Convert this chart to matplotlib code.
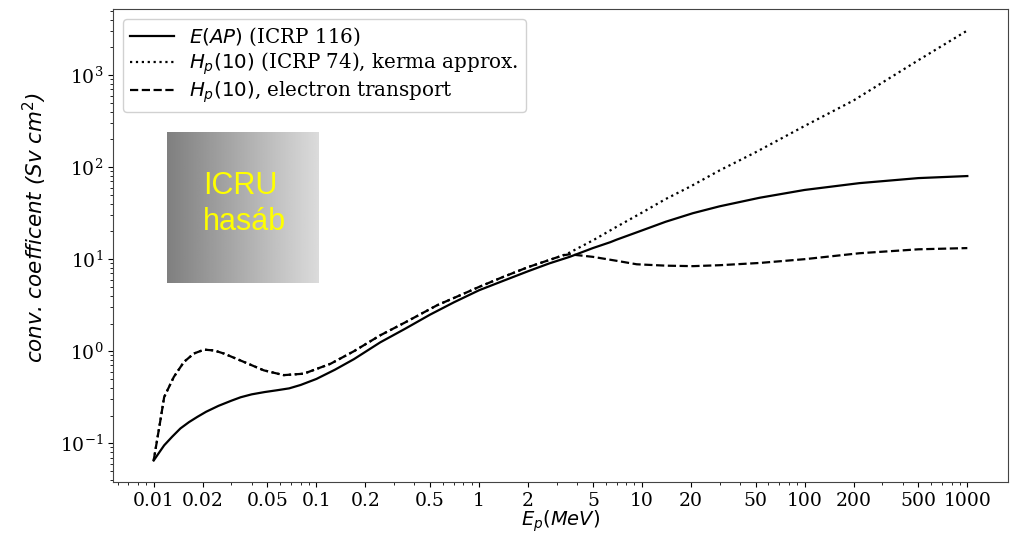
import matplotlib
matplotlib.use('Agg')
import matplotlib.pyplot as plt
import numpy as np

# E(AP), ICRP 116
e_ap_energy = [0.01, 0.011, 0.0116, 0.013, 0.0146, 0.0165, 0.0185, 0.021, 0.025, 0.03,
               0.0342, 0.04, 0.048, 0.0574, 0.068, 0.08, 0.1, 0.13, 0.17, 0.247, 0.35,
               0.5, 0.7, 1.0, 1.4, 2.0, 2.7, 3.6, 5.0, 6.4, 7.0, 10.0, 14.0, 20.6, 30.0,
               53.0, 100.0, 217.0, 500.0, 1000.0]
e_ap_value = [0.065, 0.083, 0.095, 0.118, 0.145, 0.17, 0.193, 0.22, 0.255, 0.29,
              0.316, 0.34, 0.36, 0.377, 0.395, 0.43, 0.50, 0.63, 0.82, 1.25, 1.75,
              2.5, 3.4, 4.6, 5.8, 7.4, 9.0, 10.6, 13.2, 15.3, 16.3, 20.5, 25.5, 31.6, 37.5,
              46.5, 56.5, 67.0, 76.0, 80.0]

# Hp(10), electron transport
hp_et_energy = [0.01, 0.011, 0.0116, 0.0133, 0.01535, 0.01766, 0.0204, 0.0235, 0.027,
                0.0358, 0.0475, 0.063, 0.0836, 0.122, 0.17, 0.247, 0.35, 0.552, 0.8,
                1.0, 1.4, 2.0, 2.7, 3.27, 3.6, 5.0, 7.0, 9.3, 14.1, 20.6, 30.0, 53.0,
                100.0, 217.0, 500.0, 1000.0]
hp_et_value = [0.065, 0.178, 0.318, 0.526, 0.766, 0.944, 1.04, 1.02, 0.944,
               0.766, 0.62, 0.55, 0.57, 0.73, 1.0, 1.49, 2.05, 3.16, 4.2,
               5.0, 6.4, 8.2, 9.8, 11.0, 11.3, 10.6, 9.6, 8.8, 8.5, 8.4, 8.6, 9.1,
               10.0, 11.6, 12.8, 13.2]

# Hp(10), ICRP 74 kerma approximation
hp_k_energy = [0.01, 0.011, 0.0116, 0.0133, 0.01535, 0.01766, 0.0204, 0.0235, 0.027,
               0.0358, 0.0475, 0.063, 0.0836, 0.122, 0.17, 0.247, 0.35, 0.552, 0.8,
               1.0, 1.4, 2.0, 2.7, 3.27, 3.6, 5.0, 7.0, 10.0, 14.0, 20.0, 30.0, 50.0,
               100.0, 200.0, 500.0, 1000.0]
hp_k_value = [0.065, 0.178, 0.318, 0.526, 0.766, 0.944, 1.04, 1.02, 0.944,
              0.766, 0.62, 0.55, 0.57, 0.73, 1.0, 1.49, 2.05, 3.16, 4.2,
              5.0, 6.4, 8.2, 9.8, 11.0, 11.8, 16.0, 22.5, 32.0, 45.0, 62.0, 92.0, 145.0,
              280.0, 530.0, 1450.0, 3050.0]

xtick_values = [0.01, 0.02, 0.05, 0.1, 0.2, 0.5, 1, 2, 5, 10, 20, 50, 100, 200, 500, 1000]
xtick_labels = ['0.01', '0.02', '0.05', '0.1', '0.2', '0.5', '1', '2', '5', '10', '20',
                '50', '100', '200', '500', '1000']

plt.rcParams['font.family'] = 'DejaVu Serif'
plt.rcParams['mathtext.fontset'] = 'dejavusans'

fig = plt.figure(figsize=(10.19, 5.34), dpi=100)
ax = fig.add_axes([113 / 1019, 52 / 534, 895 / 1019, 473 / 534])

ax.plot(e_ap_energy, e_ap_value, color='black', linestyle='-', linewidth=1.6,
        label='$E(AP)$ (ICRP 116)')
ax.plot(hp_k_energy, hp_k_value, color='black', linestyle=':', linewidth=1.6,
        label='$H_p(10)$ (ICRP 74), kerma approx.')
ax.plot(hp_et_energy, hp_et_value, color='black', linestyle='--', linewidth=1.6,
        label='$H_p(10)$, electron transport')

ax.set_xscale('log')
ax.set_yscale('log')
ax.set_xticks(xtick_values)
ax.set_xticklabels(xtick_labels)
ax.tick_params(labelsize=13.5)

ax.set_xlabel('$E_p(MeV)$', fontsize=14, labelpad=-1)
ax.set_ylabel('conv. coefficent (Sv cm$^2$)', fontsize=15.5, style='italic',
              family='DejaVu Sans')
ax.yaxis.set_label_coords(-0.072, 0.539)

for sp in ax.spines.values():
    sp.set_color('#444444')

ax.legend(loc='upper left', fontsize=14.3, frameon=True, framealpha=0.9,
          edgecolor='#cccccc', borderaxespad=0.5, labelspacing=0.12,
          handlelength=2.2, handletextpad=0.8, borderpad=0.35)

# ICRU hasab inset
inset = fig.add_axes([167 / 1019, (534 - 283) / 534, 152 / 1019, 151 / 534])
grad = np.linspace(0.5, 0.86, 256).reshape(1, -1)
inset.imshow(grad, cmap='gray', vmin=0, vmax=1, aspect='auto', extent=[0, 1, 0, 1])
inset.set_axis_off()
inset.text(0.237, 0.589, 'ICRU', color='#ffff00', fontsize=22, family='Liberation Sans',
           transform=inset.transAxes, va='baseline')
inset.text(0.237, 0.351, 'hasáb', color='#ffff00', fontsize=22, family='Liberation Sans',
           transform=inset.transAxes, va='baseline')

fig.savefig('out.png', dpi=100)
